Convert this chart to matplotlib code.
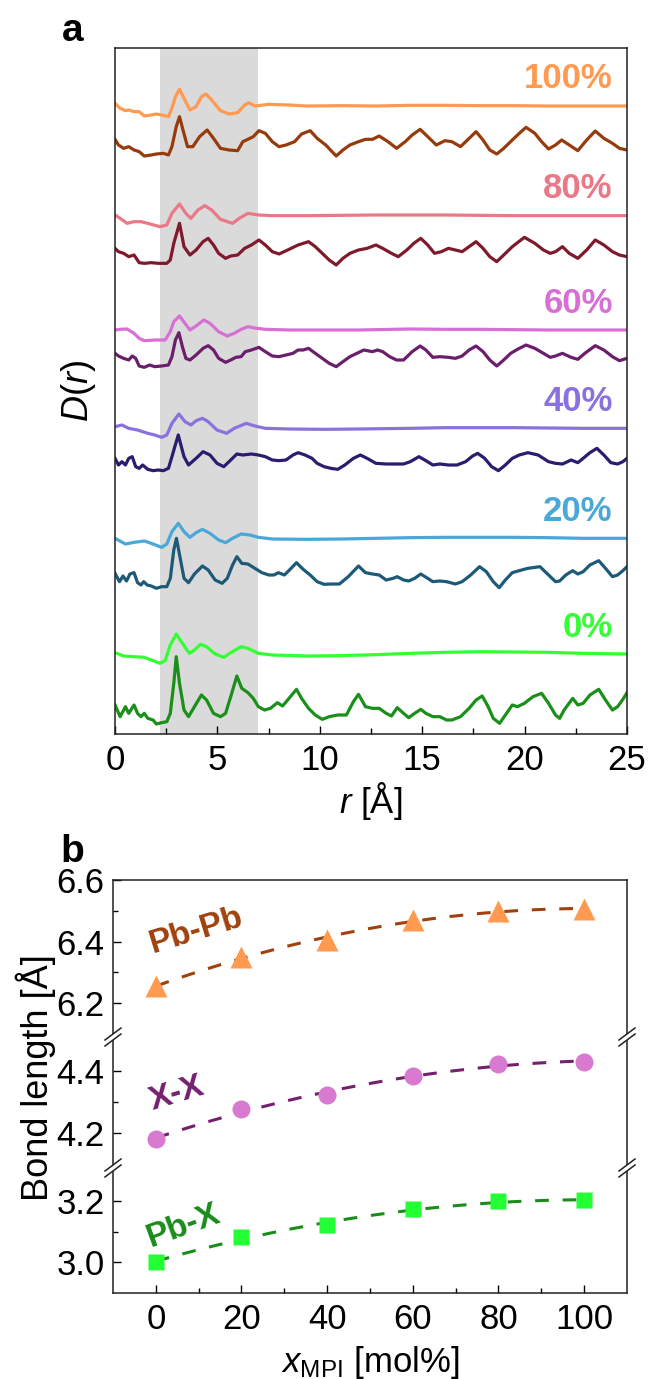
import numpy as np
import matplotlib.pyplot as plt
from matplotlib.lines import Line2D
from matplotlib.patches import Polygon

plt.rcParams['font.family'] = ['Liberation Sans', 'DejaVu Sans']
plt.rcParams['mathtext.fontset'] = 'custom'
plt.rcParams['mathtext.rm'] = 'Liberation Sans'
plt.rcParams['mathtext.it'] = 'Liberation Sans:italic'
plt.rcParams['mathtext.bf'] = 'Liberation Sans:bold'

# ---------------- panel a : D(r) curves (arbitrary units) ----------------
r_0d = [0, 0.25, 0.51, 0.67, 0.93, 1.10, 1.27, 1.43, 1.60, 1.86, 2.02, 2.28, 2.53, 2.70, 2.87,
        2.99, 3.15, 3.37, 3.59, 3.88, 4.22, 4.47, 4.81, 5.15, 5.40, 5.65, 5.95, 6.19, 6.49, 6.75,
        7.00, 7.30, 7.59, 7.93, 8.18, 8.43, 8.86, 9.11, 9.45, 9.78, 10.12, 10.46, 10.88, 11.30, 11.64,
        11.89, 12.23, 12.57, 12.90, 13.24, 13.50, 13.78, 14.09, 14.34, 14.63, 14.93, 15.18, 15.52, 15.86, 16.19,
        16.45, 16.87, 17.29, 17.63, 17.93, 18.22, 18.47, 18.78, 19.06, 19.40, 19.65, 19.99, 20.41, 20.83, 21.17,
        21.51, 21.71, 21.93, 22.35, 22.60, 22.86, 23.19, 23.62, 23.95, 24.29, 24.54, 24.80, 25.00]
d_0d = [5, -30, 0, -20, 5, -20, -30, -20, -35, -40, -52, -48, -45, -20, 70,
        150, 70, -10, -30, 0, 35, 20, -20, -30, -20, 30, 92, 55, 42, 25,
        0, -10, -5, 12, 2, 20, 52, 25, -5, -25, -38, -30, -25, -25, 15,
        37, 0, -5, -5, -20, -28, -3, -20, -33, -20, -8, -20, -30, -30, -40,
        -40, -30, -5, 20, 32, 0, -35, -50, -25, 5, 0, 10, 30, 40, 10,
        -25, -35, -10, 25, 5, 10, 35, 52, 20, -10, 0, 22, 42]

r_0l = [0, 0.42, 0.93, 1.43, 1.77, 2.19, 2.45, 2.70, 2.99, 3.29, 3.63, 3.88, 4.17, 4.47, 4.89,
        5.31, 5.65, 6.16, 6.49, 7.00, 7.68, 9.36, 11.05, 12.74, 14.42, 16.11, 17.80, 19.48, 21.17, 22.86, 25.00]
d_0l = [4, -6, -8, -10, -18, -28, -20, 27, 60, 32, 2, 12, 29, 22, 0,
        -10, 4, 22, 17, 2, -3, -6, -5, -2, 2, 5, 7, 6, 5, 2, 0]

r_20d = [0, 0.22, 0.39, 0.56, 0.73, 0.93, 1.10, 1.27, 1.40, 1.57, 1.77, 2.02, 2.28, 2.53, 2.70,
         2.87, 3.00, 3.17, 3.37, 3.59, 3.88, 4.27, 4.55, 4.89, 5.23, 5.48, 5.74, 5.95, 6.19, 6.49,
         6.83, 7.17, 7.51, 7.76, 7.98, 8.27, 8.52, 8.86, 9.19, 9.53, 9.87, 10.21, 10.54, 10.96, 11.39,
         11.89, 12.23, 12.57, 12.90, 13.24, 13.58, 13.78, 14.09, 14.34, 14.63, 14.93, 15.27, 15.52, 15.86, 16.19,
         16.62, 16.95, 17.37, 17.80, 18.13, 18.47, 18.76, 19.06, 19.40, 19.74, 20.16, 20.75, 21.17, 21.51, 21.71,
         22.01, 22.35, 22.60, 22.86, 23.19, 23.62, 23.95, 24.29, 24.54, 24.80, 25.00]
d_20d = [0, -25, -8, -23, -2, 2, -28, -35, -25, -35, -38, -45, -40, -40, -15,
         70, 105, 50, -15, -28, -2, 22, 10, -20, -30, -15, 25, 50, 30, 28,
         15, 2, -5, -5, 2, -5, 10, 32, 12, -5, -25, -33, -32, -32, -10,
         22, 2, -2, -5, -20, -15, -10, -20, -23, -15, -2, -15, -25, -23, -25,
         -32, -25, -5, 20, 5, -25, -43, -20, 2, 8, 15, 20, -5, -25, -23,
         -5, 8, -2, 5, 25, 38, 15, -10, -5, 8, 20]

r_20l = [0, 0.51, 0.93, 1.43, 1.77, 2.28, 2.53, 2.78, 3.09, 3.37, 3.66, 3.96, 4.27, 4.64, 5.06,
         5.40, 5.74, 6.16, 6.58, 7.00, 7.68, 9.36, 11.05, 12.74, 14.42, 16.11, 17.80, 19.48, 21.17, 22.86, 25.00]
d_20l = [0, -17, -12, -8, -15, -27, -17, 20, 45, 20, 3, 17, 27, 15, -5,
         -13, 0, 13, 10, 3, -2, -3, -2, 0, 2, 3, 3, 3, 2, 0, 0]

r_40d = [0, 0.17, 0.34, 0.51, 0.67, 0.84, 1.01, 1.18, 1.35, 1.60, 1.86, 2.11, 2.36, 2.61, 2.78,
         2.92, 3.09, 3.26, 3.37, 3.59, 3.96, 4.30, 4.64, 4.98, 5.31, 5.57, 5.95, 6.24, 6.66, 7.00,
         7.34, 7.68, 8.01, 8.35, 8.69, 8.94, 9.28, 9.62, 9.87, 10.21, 10.54, 10.88, 11.22, 11.64, 11.98,
         12.31, 12.74, 13.24, 13.75, 14.09, 14.42, 14.84, 15.18, 15.52, 15.86, 16.28, 16.70, 17.12, 17.46, 17.71,
         18.05, 18.39, 18.72, 19.06, 19.40, 19.74, 20.16, 20.66, 21.17, 21.51, 21.85, 22.27, 22.60, 22.86, 23.19,
         23.53, 23.87, 24.21, 24.54, 24.80, 25.00]
d_40d = [5, -15, -5, -15, 5, 10, -20, -25, -15, -28, -32, -30, -32, -25, 10,
         40, 75, 35, 10, -15, 5, 25, 15, -10, -20, -5, 18, 15, 18, 15,
         10, 0, -2, 0, 15, 22, 15, 5, -10, -20, -25, -28, -15, 5, 15,
         5, -10, -12, -12, -12, -5, 10, -2, -15, -12, -15, -15, -5, 12, 20,
         5, -20, -32, -15, 5, 15, 22, 15, -5, -10, -12, 0, -8, 5, 22,
         35, 15, -8, -12, -5, 5]

r_40l = [0, 0.34, 0.67, 1.10, 1.60, 1.94, 2.28, 2.53, 2.78, 3.12, 3.42, 3.71, 3.96, 4.27, 4.55,
         4.98, 5.45, 5.82, 6.41, 6.83, 7.34, 8.52, 10.21, 11.89, 14.42, 16.11, 17.80, 19.48, 21.17, 22.86, 25.00]
d_40l = [5, 10, 0, -5, -15, -20, -27, -20, 15, 43, 20, 10, 23, 30, 20,
         -5, -15, 0, 15, 7, 0, -2, -3, -2, 0, 2, 2, 2, 1, 0, 0]

r_60d = [0, 0.17, 0.42, 0.67, 0.84, 1.01, 1.18, 1.43, 1.69, 1.94, 2.28, 2.61, 2.78, 2.95, 3.12,
         3.29, 3.46, 3.66, 3.96, 4.30, 4.55, 4.81, 5.06, 5.40, 5.65, 5.90, 6.16, 6.36, 6.66, 7.03,
         7.34, 7.68, 8.01, 8.35, 8.69, 8.94, 9.19, 9.45, 9.78, 10.12, 10.46, 10.80, 11.13, 11.47, 11.81,
         12.15, 12.57, 12.82, 13.07, 13.41, 13.75, 14.09, 14.51, 14.90, 15.18, 15.52, 15.86, 16.28, 16.62, 16.95,
         17.29, 17.63, 17.97, 18.30, 18.64, 18.98, 19.32, 19.65, 20.07, 20.50, 20.92, 21.25, 21.51, 21.85, 22.27,
         22.60, 22.94, 23.45, 23.87, 24.29, 24.63, 25.00]
d_60d = [10, 2, -5, -10, 2, -5, -28, -32, -25, -30, -28, -25, 0, 50, 72,
         30, -5, -10, 5, 25, 33, 20, -5, -17, -10, -2, 0, 15, 20, 28,
         15, 2, 0, 5, 10, 20, 20, 25, 10, -5, -20, -30, -15, 0, 10,
         20, 15, 20, 15, 0, -10, -10, 15, 32, 20, -2, 0, -2, -5, 2,
         20, 32, 15, -10, -28, -10, 10, 22, 35, 25, 10, -2, 2, 10, -2,
         -8, 10, 33, 20, 0, -12, -5]

r_60l = [0, 0.25, 0.59, 0.93, 1.18, 1.43, 1.94, 2.45, 2.70, 2.87, 3.15, 3.42, 3.66, 3.96, 4.34,
         4.64, 5.06, 5.48, 5.82, 6.16, 6.49, 6.92, 7.34, 8.52, 10.21, 11.89, 14.42, 16.11, 17.80, 19.48,
         21.17, 22.86, 25.00]
d_60l = [0, 2, 3, -10, -25, -32, -30, -30, -5, 25, 42, 20, 0, 12, 30,
         20, -5, -18, -10, 2, 10, 5, 2, 0, 0, 0, 3, 2, 2, 1,
         0, 0, 0]

r_80d = [0, 0.17, 0.42, 0.67, 0.93, 1.18, 1.43, 1.77, 2.11, 2.53, 2.70, 2.87, 3.15, 3.37, 3.66,
         3.96, 4.30, 4.55, 4.81, 5.06, 5.40, 5.65, 5.99, 6.33, 6.66, 7.03, 7.34, 7.68, 8.01, 8.43,
         8.94, 9.45, 9.78, 10.12, 10.46, 10.80, 11.13, 11.47, 11.89, 12.31, 12.74, 13.07, 13.50, 13.83, 14.25,
         14.59, 14.93, 15.27, 15.60, 15.94, 16.28, 16.62, 16.95, 17.29, 17.63, 17.97, 18.30, 18.64, 18.98, 19.40,
         19.99, 20.50, 20.92, 21.25, 21.51, 21.85, 22.18, 22.60, 23.03, 23.45, 23.87, 24.29, 24.63, 25.00]
d_80d = [5, -5, -10, -20, -15, -38, -40, -38, -40, -40, -30, 20, 80, 10, -15,
         0, 25, 35, 15, -10, -25, -18, -15, 5, 15, 30, 15, -5, -12, 0,
         15, 25, 10, -10, -30, -45, -25, -10, 0, 5, 15, 5, -10, -20, 0,
         20, 35, 15, -10, -5, 5, 0, -5, 10, 25, 5, -20, -35, -15, 10,
         38, 20, 0, -10, -5, 10, -10, -25, 0, 30, 15, -5, -15, -20]

r_80l = [0, 0.25, 0.59, 0.93, 1.27, 1.60, 2.19, 2.53, 2.78, 3.15, 3.46, 3.71, 4.05, 4.39, 4.72,
         5.15, 5.74, 6.07, 6.49, 7.00, 7.68, 9.36, 11.05, 12.74, 14.42, 16.11, 17.80, 19.48, 21.17, 22.86, 25.00]
d_80l = [2, -8, -23, -18, -18, -23, -33, -28, 7, 35, 7, -8, 17, 30, 17,
         -11, -23, -8, 7, 2, 0, 0, 1, 2, 2, 2, 1, 0, 0, 0, 0]

r_100d = [0, 0.17, 0.42, 0.67, 0.93, 1.18, 1.43, 1.77, 2.02, 2.36, 2.61, 2.78, 2.99, 3.15, 3.32,
          3.54, 3.80, 4.13, 4.50, 4.81, 5.15, 5.57, 5.99, 6.24, 6.49, 6.75, 7.03, 7.34, 7.68, 8.01,
          8.35, 8.77, 9.11, 9.53, 9.87, 10.29, 10.80, 11.13, 11.47, 11.89, 12.23, 12.57, 12.90, 13.33, 13.75,
          14.17, 14.51, 14.90, 15.27, 15.69, 16.11, 16.45, 16.87, 17.21, 17.63, 17.97, 18.30, 18.64, 18.98, 19.40,
          19.74, 20.07, 20.50, 20.83, 21.17, 21.51, 21.81, 22.18, 22.60, 23.03, 23.45, 23.87, 24.29, 24.63, 25.00]
d_100d = [12, -5, -15, -10, -20, -25, -38, -35, -32, -30, -35, -10, 50, 80, 40,
          -10, -10, 20, 40, 15, -15, -20, -22, 5, 12, 20, 38, 30, 5, -10,
          -5, 5, 28, 38, 15, -5, -38, -20, -5, 5, 12, 12, 22, 5, -15,
          5, 25, 42, 20, -5, 8, 5, -10, 10, 35, 10, -20, -32, -15, 10,
          30, 48, 30, 5, -17, -5, 10, -5, -22, 10, 37, 15, 0, -15, -20]

r_100l = [0, 0.25, 0.51, 0.67, 0.93, 1.18, 1.43, 1.77, 2.02, 2.28, 2.61, 2.78, 2.95, 3.15, 3.37,
          3.66, 3.96, 4.22, 4.44, 4.72, 5.15, 5.57, 5.99, 6.33, 6.53, 6.83, 7.51, 8.52, 9.36, 11.05,
          12.74, 14.42, 16.11, 17.80, 19.48, 21.17, 22.86, 25.00]
d_100l = [7, -8, -15, -13, -18, -18, -31, -28, -25, -28, -33, -8, 27, 49, 22,
          -13, -3, 27, 35, 17, -15, -25, -21, 2, 9, -1, 4, 2, -1, 0,
          -1, 1, 1, 0, 0, -1, -1, -1]

compositions = ['0%', '20%', '40%', '60%', '80%', '100%']
dark_r = [r_0d, r_20d, r_40d, r_60d, r_80d, r_100d]
dark_d = [d_0d, d_20d, d_40d, d_60d, d_80d, d_100d]
light_r = [r_0l, r_20l, r_40l, r_60l, r_80l, r_100l]
light_d = [d_0l, d_20l, d_40l, d_60l, d_80l, d_100l]

dark_offsets = [82, 482, 822, 1132, 1452, 1772]
light_offsets = [240, 587, 917, 1212, 1555, 1885]
dark_colors = ['#1a8f1a', '#1d5a78', '#2c1b6e', '#6b1e6b', '#7e1a2c', '#963c0c']
light_colors = ['#33ff33', '#4aa8d8', '#8a72de', '#d86fd6', '#ea7886', '#ff9a50']

# ---------------- panel b : bond lengths ----------------
x_mpi = [0, 20, 40, 60, 80, 100]
pbpb = [6.255, 6.35, 6.405, 6.47, 6.50, 6.505]
xx = [4.18, 4.275, 4.322, 4.383, 4.421, 4.43]
pbx = [3.002, 3.081, 3.122, 3.172, 3.198, 3.202]

W, H = 648, 1379
fig = plt.figure(figsize=(W / 100, H / 100), dpi=100)

ax = fig.add_axes([115 / W, 1 - 734 / H, 512 / W, 686 / H])
ax.axvspan(2.2, 7.0, color='#dadada', lw=0, zorder=0)
for i in range(6):
    ax.plot(light_r[i], np.array(light_d[i]) + light_offsets[i], color=light_colors[i], lw=2.3,
            zorder=2, solid_joinstyle='round')
    ax.plot(dark_r[i], np.array(dark_d[i]) + dark_offsets[i], color=dark_colors[i], lw=2.3,
            zorder=2, solid_joinstyle='round')
    ax.text(24.3, light_offsets[i] + 80, compositions[i], color=light_colors[i], fontsize=25,
            fontweight='bold', ha='right', va='center')
ax.set_xlim(0, 25)
ax.set_ylim(0, 2058)
ax.set_yticks([])
ax.set_xticks([0, 5, 10, 15, 20, 25])
ax.set_xticks(np.arange(2.5, 25, 5), minor=True)
ax.tick_params(axis='x', which='major', direction='in', length=6, width=1, labelsize=25, pad=7)
ax.tick_params(axis='x', which='minor', direction='in', length=4, width=1)
for s in ax.spines.values():
    s.set_linewidth(1.1)
    s.set_color('#222222')
ax.set_xlabel(r'$r$ [Å]', fontsize=25, labelpad=2)
fig.text(78 / W, 1 - 391 / H, r'$D$($r$)', fontsize=26, rotation=90, ha='center', va='center')
fig.text(73 / W, 1 - 31 / H, 'a', fontsize=28, fontweight='bold', ha='center', va='center')

# broken axis: three stacked segments
seg_px = [(880, 1037), (1037, 1168), (1168, 1293)]
seg_lims = [(6.09, 6.6), (4.085, 4.51), (2.90, 3.307)]
seg_major = [[6.2, 6.4, 6.6], [4.2, 4.4], [3.0, 3.2]]
seg_minor = [[6.3, 6.5], [4.3], [3.1]]
seg_data = [(pbpb, '^', '#ff9a50', '#a0410d', 'Pb-Pb', 9.5, 6.435, 17, 16),
            (xx, 'o', '#d87bd0', '#74206f', 'X-X', 4.8, 4.325, 17, 13),
            (pbx, 's', '#22ff33', '#1a8c1a', 'Pb-X', 6.5, 3.118, 20, 12)]

axes_b = []
xfit = np.linspace(0, 100, 200)
for k, (top, bot) in enumerate(seg_px):
    a = fig.add_axes([113 / W, 1 - bot / H, 514 / W, (bot - top) / H])
    axes_b.append(a)
    y, mk, mc, lc, name, tx, ty, rot, ms = seg_data[k]
    coef = np.polyfit(x_mpi, y, 2)
    a.plot(xfit, np.polyval(coef, xfit), color=lc, lw=2.2, dashes=(4.5, 4.5), zorder=2)
    a.plot(x_mpi, y, mk, color=mc, ms=ms, mec='none', zorder=3)
    a.text(tx, ty, name, color=lc, fontsize=24, fontweight='bold', rotation=rot,
           ha='center', va='center')
    a.set_xlim(-10, 110)
    a.set_ylim(*seg_lims[k])
    a.set_yticks(seg_major[k])
    a.set_yticks(seg_minor[k], minor=True)
    a.set_yticklabels(['%.1f' % v for v in seg_major[k]])
    a.tick_params(axis='y', which='major', direction='in', length=6, width=1, labelsize=25, pad=6)
    a.tick_params(axis='y', which='minor', direction='in', length=3.5, width=1)
    for s in a.spines.values():
        s.set_linewidth(1.1)
        s.set_color('#222222')
    if k > 0:
        a.spines['top'].set_visible(False)
    if k < 2:
        a.spines['bottom'].set_visible(False)
        a.set_xticks([])
    else:
        a.set_xticks([0, 20, 40, 60, 80, 100])
        a.set_xticks([10, 30, 50, 70, 90], minor=True)
        a.tick_params(axis='x', which='major', direction='in', length=6, width=1, labelsize=25, pad=7)
        a.tick_params(axis='x', which='minor', direction='in', length=3.5, width=1)
        a.set_xlabel(r'$x_{\rm MPI}$ [mol%]', fontsize=25, labelpad=6)

# break marks
for yb in (1037, 1168):
    for xb in (113, 627):
        dx, dy, gap = 8, 6, 3
        poly = [(xb - dx, yb + dy + gap), (xb + dx, yb - dy + gap),
                (xb + dx, yb - dy - gap), (xb - dx, yb + dy - gap)]
        fig.add_artist(Polygon([(px / W, 1 - py / H) for px, py in poly], closed=True,
                               transform=fig.transFigure, fc='white', ec='none', zorder=10))
        for sgn in (1, -1):
            xs = [(xb - dx) / W, (xb + dx) / W]
            ys = [1 - (yb + dy + sgn * gap) / H, 1 - (yb - dy + sgn * gap) / H]
            fig.add_artist(Line2D(xs, ys, transform=fig.transFigure, color='#222222', lw=1.1, zorder=11))

fig.text(36 / W, 1 - 1078 / H, 'Bond length [Å]', fontsize=26, rotation=90, ha='center', va='center')
fig.text(72 / W, 1 - 852 / H, 'b', fontsize=28, fontweight='bold', ha='center', va='center')

fig.savefig('out.png', dpi=100)
